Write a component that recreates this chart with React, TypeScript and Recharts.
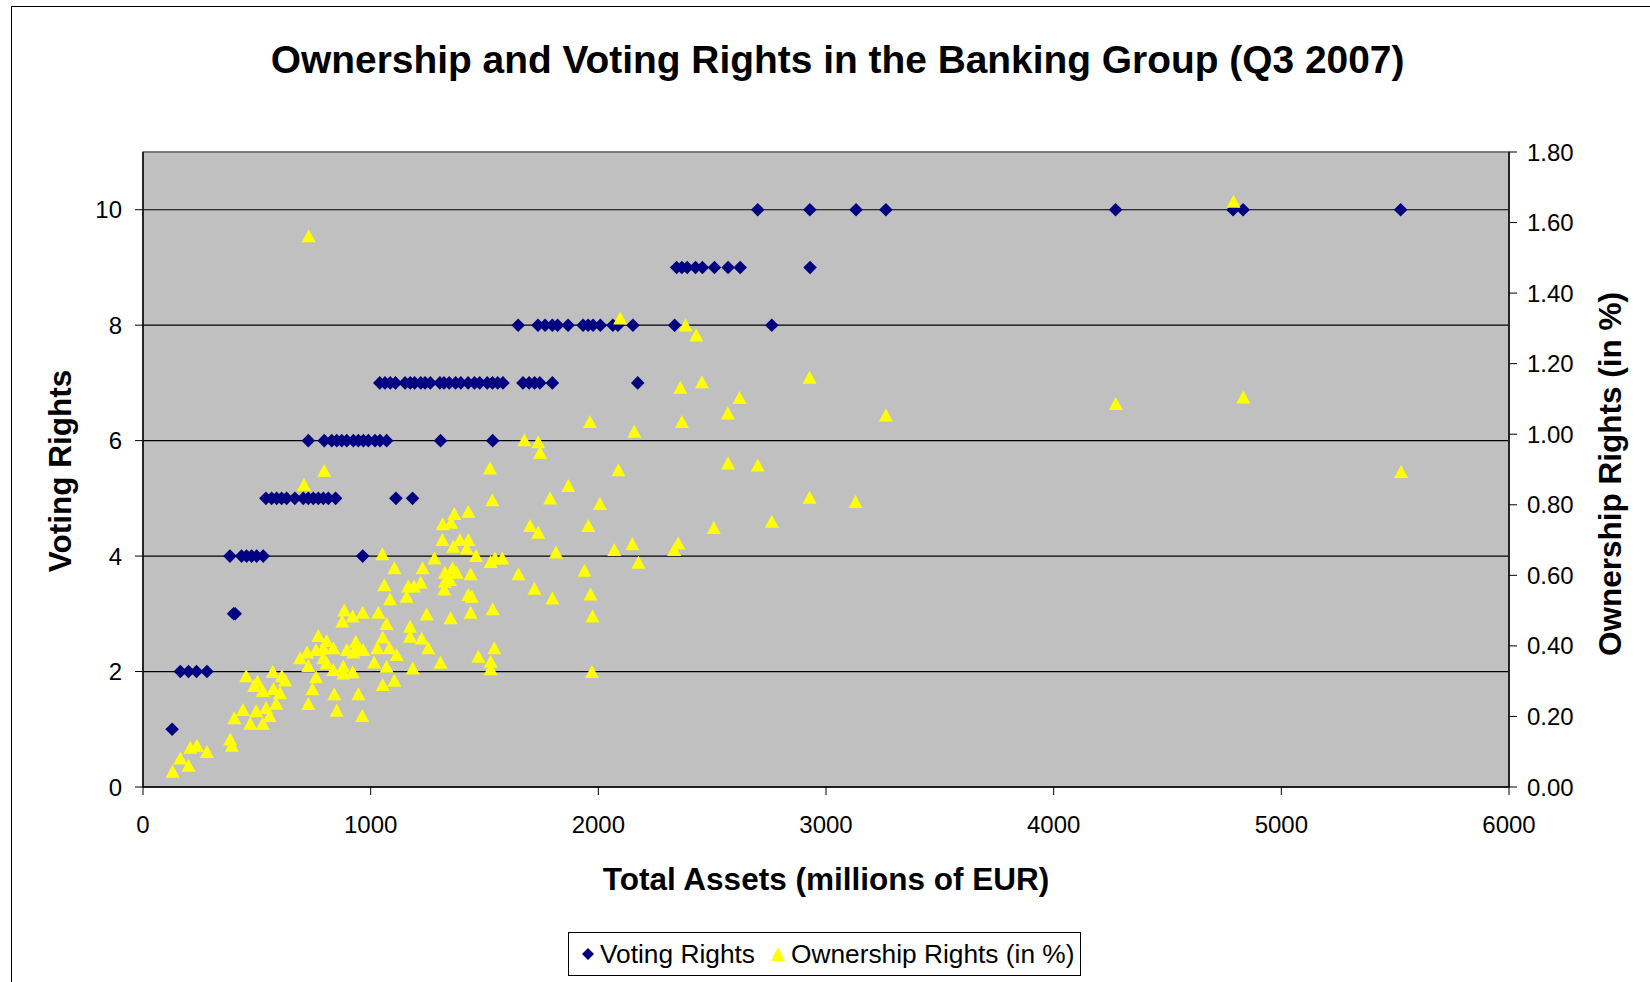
import React from 'react';
import {
  ScatterChart, Scatter, XAxis, YAxis, CartesianGrid, ReferenceArea,
} from 'recharts';

const FONT = '"Liberation Sans", Arial, Helvetica, sans-serif';

const xTicks = [0, 1000, 2000, 3000, 4000, 5000, 6000];
const votingTicks = [0, 2, 4, 6, 8, 10];
const ownershipTicks = [0, 0.2, 0.4, 0.6, 0.8, 1.0, 1.2, 1.4, 1.6, 1.8];

// Voting Rights series: total assets (millions EUR) and voting rights
const votingAssets = [
  128,
  164, 200, 235, 281,
  398, 405,
  382, 433, 455, 477, 499, 528, 965,
  540, 565, 587, 609, 631, 667, 704, 726, 748, 770, 792, 814, 846, 1111, 1184,
  726, 796, 829, 851, 873, 895, 924, 946, 968, 990, 1019, 1041, 1070, 1307, 1536,
  1040, 1063, 1086, 1109, 1151, 1174, 1193, 1220, 1239, 1262, 1304, 1322, 1345, 1373,
  1396, 1428, 1456, 1479, 1512, 1535, 1558, 1581, 1669, 1696, 1720, 1743, 1798, 2173,
  1648, 1735, 1766, 1798, 1821, 1867, 1933, 1955, 1977, 2009, 2064, 2086, 2152, 2335, 2762,
  2344, 2367, 2390, 2427, 2457, 2510, 2570, 2623, 2930,
  2700, 2929, 3132, 3263, 4272, 4788, 4832, 5524,
];
const votingValues = [
  1,
  2, 2, 2, 2,
  3, 3,
  4, 4, 4, 4, 4, 4, 4,
  5, 5, 5, 5, 5, 5, 5, 5, 5, 5, 5, 5, 5, 5, 5,
  6, 6, 6, 6, 6, 6, 6, 6, 6, 6, 6, 6, 6, 6, 6,
  7, 7, 7, 7, 7, 7, 7, 7, 7, 7, 7, 7, 7, 7,
  7, 7, 7, 7, 7, 7, 7, 7, 7, 7, 7, 7, 7, 7,
  8, 8, 8, 8, 8, 8, 8, 8, 8, 8, 8, 8, 8, 8, 8,
  9, 9, 9, 9, 9, 9, 9, 9, 9,
  10, 10, 10, 10, 10, 10, 10, 10,
];

// Ownership Rights series: total assets (millions EUR) and ownership (%)
const ownershipAssets = [
  130, 164, 200, 208, 237, 281, 383, 390, 401, 439, 453, 471, 488, 497, 503, 526, 526,
  541, 556, 570, 573, 585, 602, 610, 624, 690,
  1104, 1060, 1085, 884, 921, 965, 1034, 875, 1070, 1053, 1173, 1224, 1253, 770, 807,
  836, 935, 938, 967, 1029, 1082, 1114, 721, 760, 792, 895, 924, 726, 792, 807, 836,
  880, 880, 921, 1015, 1070, 1185, 1307, 1473, 1543, 1527, 1527, 760, 744, 1053, 1104,
  840, 946, 726, 851, 963,
  1675, 1736, 1744, 2158, 1524, 2088, 1868, 1788, 1534, 2007, 1367, 1429, 1316, 1353,
  1700, 1736, 1956, 1315, 1392, 1429, 1363, 1422, 1463, 2149, 2070, 1814, 1280, 1527,
  1546, 1578, 2176, 1228, 1326, 1360, 1378, 1439, 1649, 1939, 1220, 1326, 1348, 1165,
  1190, 1323, 1719, 1158, 1429, 1444, 1798, 1965, 1246, 1351, 1439, 1536, 1974, 1173,
  2096, 2383, 2430, 2928, 2455, 2360, 2620, 2569, 3263, 1963, 2367, 2570, 2700, 2928,
  3130, 2762, 2507, 2351, 2333, 1972,
  728, 796, 707, 1051,
  4790, 4273, 4833, 5526,
];
const ownershipValues = [
  0.043, 0.081, 0.060, 0.111, 0.117, 0.099, 0.135, 0.117, 0.195, 0.218, 0.314, 0.179, 0.286, 0.215, 0.298, 0.272, 0.179,
  0.224, 0.201, 0.326, 0.278, 0.236, 0.266, 0.314, 0.302, 0.365,
  0.620, 0.572, 0.532, 0.500, 0.483, 0.494, 0.494, 0.469, 0.462, 0.424, 0.426, 0.421, 0.393, 0.428, 0.414,
  0.393, 0.412, 0.393, 0.388, 0.393, 0.393, 0.374, 0.381, 0.388, 0.393, 0.388, 0.381, 0.343, 0.365, 0.351, 0.332,
  0.322, 0.341, 0.325, 0.353, 0.341, 0.336, 0.352, 0.369, 0.393, 0.355, 0.334, 0.311, 0.277, 0.289, 0.301,
  0.263, 0.263, 0.235, 0.216, 0.201,
  0.983, 0.977, 0.947, 1.007, 0.903, 0.898, 0.853, 0.818, 0.813, 0.802, 0.774, 0.780, 0.745, 0.749,
  0.740, 0.721, 0.740, 0.700, 0.700, 0.700, 0.681, 0.676, 0.655, 0.688, 0.672, 0.665, 0.648, 0.638,
  0.648, 0.648, 0.636, 0.620, 0.607, 0.620, 0.607, 0.603, 0.603, 0.613, 0.579, 0.582, 0.587, 0.568,
  0.568, 0.560, 0.562, 0.539, 0.544, 0.539, 0.534, 0.546, 0.489, 0.478, 0.494, 0.504, 0.483, 0.454,
  1.328, 1.308, 1.280, 1.160, 1.147, 1.132, 1.103, 1.059, 1.053, 1.035, 1.035, 0.917, 0.911, 0.820,
  0.808, 0.752, 0.734, 0.690, 0.672, 0.326,
  1.561, 0.896, 0.856, 0.660,
  1.659, 1.086, 1.104, 0.893,
];

const votingData = votingAssets.map((x, i) => ({ x, v: votingValues[i] }));
const ownershipData = ownershipAssets.map((x, i) => ({ x, o: ownershipValues[i] }));

const NAVY = '#000080';
const YELLOW = '#FFFF00';

const Diamond = (props: any) => {
  const { cx, cy } = props;
  if (cx == null || cy == null) return null;
  const r = 6.8;
  return (
    <polygon
      points={`${cx},${cy - r} ${cx + r},${cy} ${cx},${cy + r} ${cx - r},${cy}`}
      fill={NAVY}
    />
  );
};

const Triangle = (props: any) => {
  const { cx, cy } = props;
  if (cx == null || cy == null) return null;
  return (
    <polygon
      points={`${cx},${cy - 7} ${cx + 7},${cy + 6} ${cx - 7},${cy + 6}`}
      fill={YELLOW}
    />
  );
};

const tickStyle = { fill: '#000', fontSize: 24, fontFamily: FONT };

export default function App() {
  return (
    <div style={{ position: 'relative', width: 1650, height: 982, overflow: 'hidden', background: '#fff', fontFamily: FONT }}>
      <style>{'body{margin:0;overflow:hidden;}'}</style>
      <div style={{ position: 'absolute', left: 11, top: 6, width: 1800, height: 1200, border: '1.5px solid #000', boxSizing: 'border-box' }} />
      <div style={{ position: 'absolute', left: 837.6, top: 60, transform: 'translate(-50%,-50%)', whiteSpace: 'nowrap', fontSize: 38.9, fontWeight: 'bold', color: '#000' }}>
        Ownership and Voting Rights in the Banking Group (Q3 2007)
      </div>
      <div style={{ position: 'absolute', left: 0, top: 0 }}>
        <ScatterChart width={1650} height={982} margin={{ top: 152, right: 0, bottom: 0, left: 0 }}>
          <CartesianGrid
            yAxisId="left"
            vertical={false}
            stroke="#000"
            strokeWidth={1.2}
            fill="#C0C0C0"
            fillOpacity={1}
          />
          <ReferenceArea yAxisId="left" x1={0} x2={6000} y1={0} y2={11} fill="none" stroke="#808080" strokeWidth={1.5} />
          <XAxis
            dataKey="x"
            type="number"
            domain={[0, 6000]}
            ticks={xTicks}
            height={195}
            tickSize={8}
            tickMargin={21}
            tick={tickStyle}
            axisLine={{ stroke: '#000', strokeWidth: 1.5 }}
            tickLine={{ stroke: '#000' }}
            interval={0}
            allowDataOverflow
          />
          <YAxis
            yAxisId="left"
            orientation="left"
            dataKey="v"
            type="number"
            domain={[0, 11]}
            ticks={votingTicks}
            width={143}
            tickSize={8}
            tickMargin={13}
            tick={tickStyle}
            axisLine={{ stroke: '#000', strokeWidth: 1.5 }}
            tickLine={{ stroke: '#000' }}
            interval={0}
            allowDataOverflow
          />
          <YAxis
            yAxisId="right"
            orientation="right"
            dataKey="o"
            type="number"
            domain={[0, 1.8]}
            ticks={ownershipTicks}
            tickFormatter={(v: number) => v.toFixed(2)}
            width={141}
            tickSize={8}
            tickMargin={10}
            tick={tickStyle}
            axisLine={{ stroke: '#000', strokeWidth: 1.5 }}
            tickLine={{ stroke: '#000' }}
            interval={0}
            allowDataOverflow
          />
          <Scatter
            name="Voting Rights"
            yAxisId="left"
            data={votingData}
            dataKey="v"
            shape={Diamond}
            isAnimationActive={false}
          />
          <Scatter
            name="Ownership Rights (in %)"
            yAxisId="right"
            data={ownershipData}
            dataKey="o"
            shape={Triangle}
            isAnimationActive={false}
          />
        </ScatterChart>
      </div>
      <div style={{ position: 'absolute', left: 59.5, top: 470.7, transform: 'translate(-50%,-50%) rotate(-90deg)', whiteSpace: 'nowrap', fontSize: 31.5, fontWeight: 'bold', color: '#000' }}>
        Voting Rights
      </div>
      <div style={{ position: 'absolute', left: 1610, top: 473.5, transform: 'translate(-50%,-50%) rotate(-90deg)', whiteSpace: 'nowrap', fontSize: 31.5, fontWeight: 'bold', color: '#000' }}>
        Ownership Rights (in %)
      </div>
      <div style={{ position: 'absolute', left: 826, top: 878.7, transform: 'translate(-50%,-50%)', whiteSpace: 'nowrap', fontSize: 31.5, fontWeight: 'bold', color: '#000' }}>
        Total Assets (millions of EUR)
      </div>
      <div style={{ position: 'absolute', left: 568, top: 932, width: 513, height: 44, border: '1.5px solid #000', boxSizing: 'border-box', background: '#fff', display: 'flex', alignItems: 'center', fontSize: 26.3, color: '#000', whiteSpace: 'nowrap' }}>
        <svg width={14} height={14} style={{ marginLeft: 12, marginRight: 5 }}>
          <polygon points="7,1 13,7 7,13 1,7" fill={NAVY} />
        </svg>
        <span>Voting Rights</span>
        <svg width={16} height={16} style={{ marginLeft: 15, marginRight: 5 }}>
          <polygon points="8,1 15,15 1,15" fill={YELLOW} />
        </svg>
        <span>Ownership Rights (in %)</span>
      </div>
    </div>
  );
}
